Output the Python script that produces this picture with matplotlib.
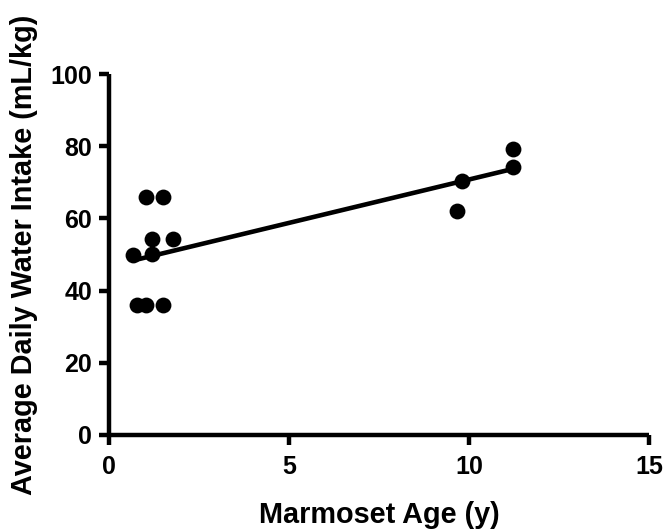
import numpy as np
import matplotlib
matplotlib.use("Agg")
import matplotlib.pyplot as plt

age = [0.65, 0.76, 1.02, 1.02, 1.18, 1.18, 1.50, 1.50, 1.76, 9.65, 9.81, 11.22, 11.22]
intake = [49.9, 36.0, 36.0, 65.8, 54.2, 50.1, 65.8, 36.0, 54.2, 62.0, 70.4, 79.2, 74.3]
xticks = [0, 5, 10, 15]
yticks = [0, 20, 40, 60, 80, 100]

plt.rcParams['font.family'] = ['Liberation Sans', 'DejaVu Sans']
plt.rcParams['font.weight'] = 'bold'

fig = plt.figure(figsize=(6.65, 5.32), dpi=100)
ax = fig.add_axes([109.3 / 665, 97 / 532, 540 / 665, 361 / 532])

slope, inter = np.polyfit(age, intake, 1)
xs = np.array([min(age), max(age)])
ax.plot(xs, slope * xs + inter, color='black', lw=3.3, solid_capstyle='butt', zorder=2)
ax.scatter(age, intake, s=130, color='black', zorder=3, linewidths=0)

ax.set_xlim(0, 15)
ax.set_ylim(0, 100)
ax.set_xticks(xticks)
ax.set_yticks(yticks)
for s in ['top', 'right']:
    ax.spines[s].set_visible(False)
for s in ['left', 'bottom']:
    ax.spines[s].set_linewidth(3.2)
    ax.spines[s].set_capstyle('butt')
ax.tick_params(width=3.2, length=7.5, labelsize=18, pad=5)
ax.tick_params(axis='x', pad=7)
for lab in ax.get_xticklabels() + ax.get_yticklabels():
    lab.set_fontweight('bold')
ax.set_xlabel('Marmoset Age (y)', fontsize=20.8, fontweight='bold', labelpad=16)
ax.set_ylabel('Average Daily Water Intake (mL/kg)', fontsize=20.8, fontweight='bold', labelpad=9)

fig.savefig('out.png', dpi=100)
